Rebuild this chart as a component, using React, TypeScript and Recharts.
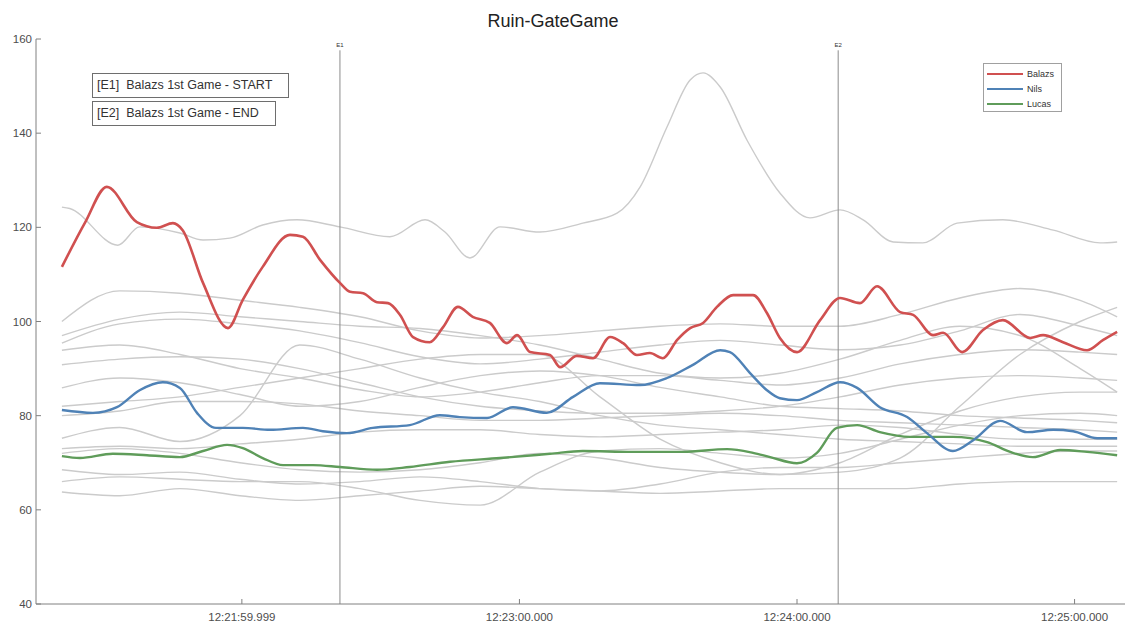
import { LineChart, Line, XAxis, YAxis, ReferenceLine } from "recharts";

// time axis: seconds relative to 12:22:00
const xTicks = [0, 60, 120, 180];
const xTickLabels = ["12:21:59.999", "12:23:00.000", "12:24:00.000", "12:25:00.000"];
const yTicks = [40, 60, 80, 100, 120, 140, 160];

const eventIds = ["E1", "E2"];
const eventTimes = [21.2, 128.9];
const eventNotes = ["Balazs 1st Game - START", "Balazs 1st Game - END"];

const seriesNames = ["Balazs", "Nils", "Lucas"];
const seriesColors = ["#d05050", "#4f82b6", "#5f9c5a"];

const balazsT = [-38.9, -33.9, -29.2, -22.7, -18.4, -14.9, -12.8, -8.4, -3.0, 0.2, 4.5, 10.4, 13.2, 16.9, 21.2, 23.4, 26.2, 29.2, 31.6, 34.2, 37.0, 40.6, 43.5, 46.7, 49.9, 53.6, 57.3, 59.5, 62.3, 66.6, 68.8, 72.4, 75.9, 79.6, 82.4, 85.4, 88.2, 91.0, 94.1, 96.9, 99.7, 102.7, 106.2, 110.5, 113.5, 116.3, 120.0, 125.0, 129.3, 133.6, 137.3, 142.3, 145.1, 149.4, 151.6, 155.7, 160.2, 164.5, 170.4, 173.2, 177.5, 182.7, 186.2, 189.2];
const balazsHR = [111.6, 121, 128.6, 121.1, 119.9, 120.9, 119.4, 108.2, 98.6, 104.6, 111.6, 118.4, 118.0, 113.1, 108.2, 106.3, 106.0, 104.1, 103.9, 101.4, 96.7, 95.6, 98.8, 103.1, 101.0, 99.7, 95.4, 97.1, 93.5, 92.9, 90.3, 92.7, 92.2, 96.7, 95.4, 92.9, 93.3, 92.2, 96.1, 98.6, 99.7, 103.1, 105.6, 105.6, 101.8, 96.5, 93.5, 100.3, 105.0, 103.9, 107.5, 102.0, 101.4, 97.1, 97.6, 93.5, 98.2, 100.3, 96.5, 97.1, 95.6, 93.9, 96.1, 97.8];

const nilsT = [-38.9, -32.2, -27.0, -22.1, -17.1, -13.4, -9.7, -5.6, 0.2, 6.1, 13.2, 17.5, 22.7, 28.3, 36.3, 42.8, 47.1, 53.0, 58.6, 65.9, 71.6, 77.4, 86.1, 91.9, 97.5, 103.4, 105.5, 109.8, 113.5, 116.3, 120.0, 124.3, 129.3, 133.0, 137.9, 143.8, 148.1, 153.7, 158.1, 163.9, 169.7, 175.4, 179.7, 184.9, 189.2];
const nilsHR = [81.2, 80.6, 81.8, 85.4, 87.1, 85.9, 80.6, 77.4, 77.4, 77.0, 77.4, 76.7, 76.3, 77.4, 78.0, 80.1, 79.7, 79.5, 81.8, 80.6, 84.0, 86.9, 86.5, 88.0, 90.8, 93.9, 93.5, 89.1, 85.4, 83.7, 83.3, 85.0, 87.1, 85.9, 81.8, 79.7, 76.3, 72.5, 74.8, 78.9, 76.5, 77.0, 76.7, 75.2, 75.2];

const lucasT = [-38.9, -35.0, -27.9, -20.5, -13.4, -8.4, -3.2, 0.2, 4.5, 8.9, 15.4, 21.2, 29.2, 36.3, 45.0, 55.8, 66.6, 73.7, 84.5, 95.4, 104.9, 110.5, 114.2, 120.0, 124.3, 128.6, 133.0, 137.9, 144.4, 153.7, 161.1, 166.1, 171.0, 176.9, 182.7, 189.2];
const lucasHR = [71.4, 71.0, 71.9, 71.6, 71.2, 72.5, 73.8, 73.1, 71.0, 69.5, 69.5, 69.1, 68.5, 69.1, 70.2, 71.0, 71.9, 72.5, 72.3, 72.3, 72.9, 72.1, 71.2, 69.9, 72.1, 77.4, 78.0, 76.5, 75.5, 75.5, 74.4, 72.3, 71.2, 72.7, 72.3, 71.6];

// the other players (grey background lines)
const spikeT = [-38.9, -37.2, -26.8, -22.1, -13.4, -8.4, -2.6, 4.5, 11.9, 21.2, 32.0, 39.6, 43.9, 49.3, 55.8, 64.4, 73.7, 81.1, 86.1, 91.9, 96.9, 99.7, 103.4, 109.2, 116.3, 122.8, 129.3, 134.3, 140.8, 147.2, 154.6, 164.5, 175.4, 185.5, 189.2];
const spikeHR = [124.3, 124, 116.2, 120.1, 118.8, 117.3, 117.7, 120.5, 121.6, 120.1, 118.0, 121.6, 119, 113.5, 120.1, 119.0, 120.9, 123.0, 128.6, 141.3, 151.3, 152.8, 149.8, 138.5, 127.3, 122.0, 123.7, 121.6, 116.9, 116.7, 120.9, 121.6, 119.4, 116.7, 116.9];

const grayT = [-38.9, -26.4, -13.4, -0.4, 12.5, 25.5, 38.5, 51.5, 64.4, 77.4, 90.4, 103.4, 116.3, 129.3, 142.3, 155.2, 168.2, 181.2, 189.2];
const grayHR = [
  [100, 106.5, 106, 104.5, 103, 101, 98, 96.5, 97, 98, 99, 99.5, 99, 99, 101.5, 105, 107, 104.5, 101],
  [95.4, 99.5, 100.5, 99.5, 98, 95.5, 92.5, 91, 92, 93.5, 95, 96, 95, 94, 95, 98, 101.5, 99, 97],
  [93.9, 95, 93, 90, 88, 85.5, 84, 85, 87, 88.5, 88.5, 87.5, 86.5, 88, 91, 93, 94, 93.5, 93],
  [90.8, 92, 92.5, 92, 90, 87, 84, 82, 81, 80.5, 80.5, 81, 82, 84, 86.5, 88, 88.5, 88, 87.5],
  [85.9, 88, 87, 84.5, 82, 83, 86, 88.5, 89.5, 88.5, 86, 84, 82, 81.5, 81, 80, 79.5, 79, 78.5],
  [75.2, 77.5, 74.5, 80, 95, 92, 88, 85, 83, 80, 78, 77, 76, 75, 74.5, 74, 73.5, 73.5, 73.5],
  [68.5, 67.5, 68, 66.5, 65.5, 66, 67, 66, 64.5, 64, 65.5, 68, 69, 69, 70, 71, 72, 72.5, 72.5],
  [63.8, 63, 64.5, 63, 62, 63, 64, 65, 64.5, 64, 63.5, 64, 64.5, 64.5, 64.5, 65.5, 66, 66, 66],
  [66, 67, 66.5, 66, 66, 64.5, 62, 61, 68, 72.5, 73, 72, 71, 72, 75, 78, 80, 80.5, 80],
  [72, 73, 72, 70, 68.5, 68, 68.5, 70, 72, 71, 69, 68, 67.5, 68, 71, 82, 93, 100, 103],
  [82, 83, 84, 86, 88, 90, 92, 93, 93, 84, 75, 70, 67.5, 70, 76, 81, 84, 85, 85],
  [80, 81, 83, 83, 82.5, 81, 80, 79, 79, 79.5, 80, 80.5, 80, 79, 78.5, 78, 77.5, 77, 76.5],
  [73, 73.5, 73, 74, 75, 76.5, 77, 77, 76, 75.5, 76, 76.5, 77, 78, 77.5, 76, 75, 75, 75],
  [97, 100.5, 102, 101, 100, 99, 98.5, 97, 95, 92, 89, 88, 89, 92, 96, 99, 97, 90, 85],
];

const pts = (ts: number[], vs: number[]) => ts.map((t, i) => ({ t, v: vs[i] }));

const FONT = "'Liberation Sans', Arial, sans-serif";
const AXIS = "#808080";
const GRAY = "#cbcbcb";

function XTick(props: any) {
  const { x, y, payload } = props;
  const label = xTickLabels[xTicks.indexOf(payload.value)];
  return (
    <g>
      <line x1={x} x2={x} y1={y - 9} y2={y - 14} stroke={AXIS} />
      <text x={x} y={y} dy="0.71em" textAnchor="middle" fontSize={11.5} fill="#4d4d4d" fontFamily={FONT}>
        {label}
      </text>
    </g>
  );
}

function YTick(props: any) {
  const { x, y, payload } = props;
  return (
    <g>
      <line x1={x + 4} x2={x + 9} y1={y} y2={y} stroke={AXIS} />
      <text x={x} y={y} dy="0.355em" textAnchor="end" fontSize={11.5} fill="#4d4d4d" fontFamily={FONT}>
        {payload.value}
      </text>
    </g>
  );
}

export default function App() {
  return (
    <div style={{ position: "absolute", left: 0, top: 0, width: 1140, height: 628, background: "#fff", fontFamily: FONT }}>
      <LineChart width={1140} height={628} margin={{ top: 39, right: 15, bottom: 0, left: 0 }}>
        <XAxis
          type="number"
          dataKey="t"
          domain={[-44.5, 190.9]}
          ticks={xTicks}
          height={24}
          tickSize={0}
          tickMargin={9}
          tickLine={false}
          stroke={AXIS}
          tick={<XTick />}
          allowDataOverflow
        />
        <YAxis
          type="number"
          domain={[40, 160]}
          ticks={yTicks}
          width={36}
          tickSize={0}
          tickMargin={4}
          tickLine={false}
          stroke={AXIS}
          tick={<YTick />}
          allowDataOverflow
        />
        {grayHR.map((vs, i) => (
          <Line
            key={"g" + i}
            data={pts(grayT, vs)}
            dataKey="v"
            type="monotone"
            stroke={GRAY}
            strokeWidth={1.4}
            dot={false}
            activeDot={false}
            isAnimationActive={false}
          />
        ))}
        <Line
          data={pts(spikeT, spikeHR)}
          dataKey="v"
          type="monotone"
          stroke={GRAY}
          strokeWidth={1.4}
          dot={false}
          activeDot={false}
          isAnimationActive={false}
        />
        {eventIds.map((id, i) => (
          <ReferenceLine
            key={id}
            segment={[{ x: eventTimes[i], y: 157.6 }, { x: eventTimes[i], y: 40 }]}
            stroke="#8c8c8c"
            strokeWidth={1}
            label={{ value: id, position: "top", fontSize: 6, fill: "#333", offset: 3 }}
          />
        ))}
        <Line data={pts(lucasT, lucasHR)} dataKey="v" type="monotone" stroke={seriesColors[2]} strokeWidth={2.4} dot={false} activeDot={false} isAnimationActive={false} />
        <Line data={pts(nilsT, nilsHR)} dataKey="v" type="monotone" stroke={seriesColors[1]} strokeWidth={2.4} dot={false} activeDot={false} isAnimationActive={false} />
        <Line data={pts(balazsT, balazsHR)} dataKey="v" type="monotone" stroke={seriesColors[0]} strokeWidth={2.6} dot={false} activeDot={false} isAnimationActive={false} />
      </LineChart>

      <div style={{ position: "absolute", left: 553, top: 11, transform: "translateX(-50%)", fontSize: 18, color: "#222", whiteSpace: "nowrap" }}>
        Ruin-GateGame
      </div>

      {eventIds.map((id, i) => (
        <div
          key={id}
          style={{
            position: "absolute",
            left: 92,
            top: 73 + i * 28,
            height: 23,
            lineHeight: "23px",
            padding: "0 16px 0 4px",
            border: "1px solid #6e6e6e",
            fontSize: 12.5,
            color: "#333",
            whiteSpace: "pre",
            background: "#fff",
          }}
        >
          {`[${id}]  ${eventNotes[i]}`}
        </div>
      ))}

      <div
        style={{
          position: "absolute",
          left: 983,
          top: 63,
          width: 77,
          height: 47,
          border: "1px solid #a0a0a0",
          background: "#fff",
        }}
      >
        {seriesNames.map((name, i) => (
          <div key={name} style={{ position: "absolute", left: 3, top: 4 + i * 15, display: "flex", alignItems: "center", height: 12 }}>
            <div style={{ width: 36, height: 2.5, background: seriesColors[i] }} />
            <span style={{ marginLeft: 4, fontSize: 9, color: "#333" }}>{name}</span>
          </div>
        ))}
      </div>
    </div>
  );
}
